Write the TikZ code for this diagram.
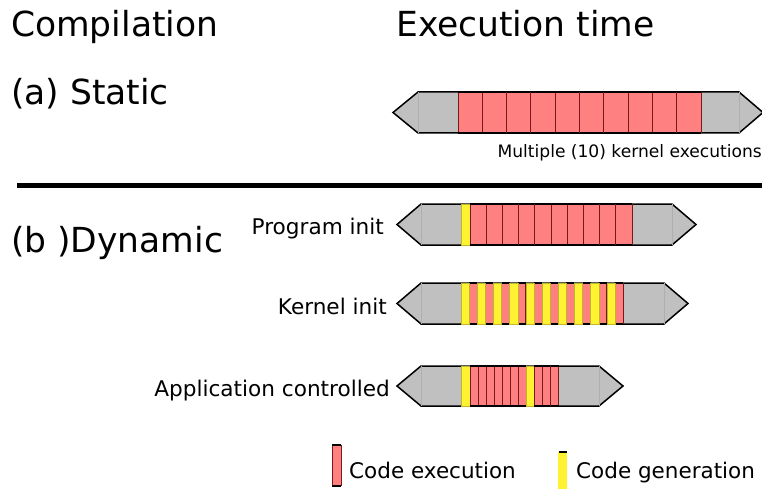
\documentclass[tikz,border=0pt]{standalone}
\usepackage{fontspec}
\setmainfont{DejaVu Sans}
\definecolor{cellred}{RGB}{255,128,128}
\definecolor{cellyel}{RGB}{255,242,50}
\definecolor{hexgray}{RGB}{192,192,192}
\definecolor{sepred}{RGB}{120,25,25}
\definecolor{innergray}{RGB}{175,175,175}
\newcommand{\hexbar}[6]{%
  \filldraw[fill=hexgray, draw=black, line width=1.5pt, line join=miter]
    (#1,{(#5+#6)/2}) -- (#2,#5) -- (#3,#5) -- (#4,{(#5+#6)/2}) -- (#3,#6) -- (#2,#6) -- cycle;
  \draw[innergray, line width=0.5pt] (#2,#5) -- (#2,#6) (#3,#5) -- (#3,#6);
}
\newcommand{\redcell}[4]{%
  \fill[cellred] (#1,#3) rectangle (#2,#4);
  \draw[sepred, line width=1pt] (#1,#3) -- (#1,#4) (#2,#3) -- (#2,#4);
  \draw[black, line width=1.5pt] (#1,#3) -- (#2,#3) (#1,#4) -- (#2,#4);
}
\newcommand{\yelcell}[4]{%
  \fill[cellyel] (#1,#3) rectangle (#2,#4);
  \draw[cellyel!75!black, line width=0.3pt] (#1,#3) rectangle (#2,#4);
}
\tikzset{
  title/.style={anchor=base west, inner sep=0pt, font=\fontsize{34.5}{41}\selectfont},
  rowlabel/.style={anchor=base east, inner sep=0pt, font=\fontsize{21.6}{26}\selectfont},
  legendtext/.style={anchor=base west, inner sep=0pt, font=\fontsize{21.5}{26}\selectfont},
  smalltext/.style={anchor=base east, inner sep=0pt, font=\fontsize{17.1}{20}\selectfont},
}
\begin{document}
\begin{tikzpicture}[x=1pt,y=-1pt]
\useasboundingbox (0,0) rectangle (762,489);
% titles
\node[title] (comp) at (11,37) {Compilation};
\node[title] (exec) at (396,37) {Execution time};
\node[title] (static) at (11,105) {(a) Static};
\node[title] (dynamic) at (11,252) {(b )Dynamic};
% separator
\draw[line width=5pt] (17,185.5) -- (762,185.5);
% static bar
\hexbar{393}{418}{739}{763}{92}{133}
\foreach \i in {0,...,9} {
  \pgfmathsetmacro{\xa}{458+24.3*\i}
  \pgfmathsetmacro{\xb}{458+24.3*(\i+1)}
  \redcell{\xa}{\xb}{92}{133}
}
\node[smalltext] (mult) at (762,158) {Multiple (10) kernel executions};
% program init
\node[rowlabel] (prog) at (384,234) {Program init};
\hexbar{397}{421}{672}{696}{204}{245}
\yelcell{461}{470}{204}{245}
\foreach \i in {0,...,9} {
  \pgfmathsetmacro{\xa}{470+16.2*\i}
  \pgfmathsetmacro{\xb}{470+16.2*(\i+1)}
  \redcell{\xa}{\xb}{204}{245}
}
% kernel init
\node[rowlabel] (kern) at (387,314) {Kernel init};
\hexbar{397}{421}{664}{688}{283}{324}
\foreach \i in {0,...,9} {
  \pgfmathsetmacro{\xa}{461+16.2*\i}
  \pgfmathsetmacro{\xm}{461+16.2*\i+8.1}
  \pgfmathsetmacro{\xb}{461+16.2*(\i+1)}
  \redcell{\xm}{\xb}{283}{324}
  \yelcell{\xa}{\xm}{283}{324}
}
% application controlled
\node[rowlabel] (app) at (390,396) {Application controlled};
\hexbar{397}{421}{599}{623}{366}{406}
\yelcell{461}{470}{366}{406}
\foreach \i in {0,...,6} {
  \pgfmathsetmacro{\xa}{470+8*\i}
  \pgfmathsetmacro{\xb}{470+8*(\i+1)}
  \redcell{\xa}{\xb}{366}{406}
}
\yelcell{526}{534}{366}{406}
\foreach \i in {0,...,2} {
  \pgfmathsetmacro{\xa}{534+8.33*\i}
  \pgfmathsetmacro{\xb}{534+8.33*(\i+1)}
  \redcell{\xa}{\xb}{366}{406}
}
% legend
\fill[cellred] (332,445) rectangle (341,486);
\draw[sepred, line width=0.6pt] (332,445) -- (332,486) (341,445) -- (341,486);
\draw[black, line width=2pt] (332,445) -- (341,445) (332,486) -- (341,486);
\node[legendtext] (lexec) at (349,478) {Code execution};
\fill[cellyel] (558,452) rectangle (567,489);
\draw[black, line width=1.5pt] (558.5,452) -- (566.5,452);
\node[legendtext] (lgen) at (576,478) {Code generation};
\end{tikzpicture}
\end{document}
